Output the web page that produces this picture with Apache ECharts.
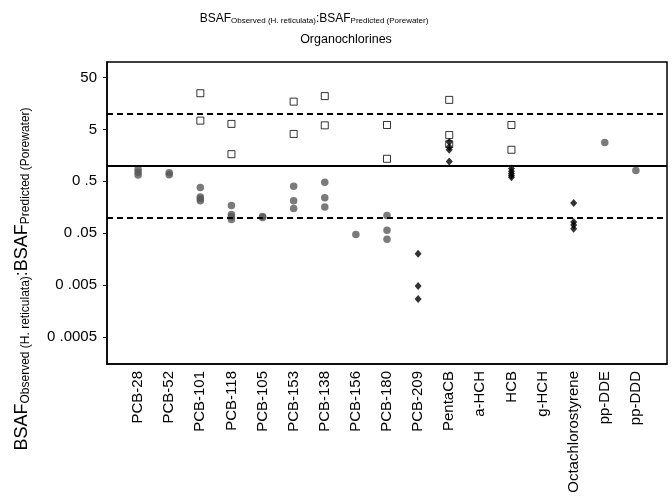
<!DOCTYPE html>
<html>
<head>
<meta charset="utf-8">
<script src="https://cdn.jsdelivr.net/npm/echarts@6/dist/echarts.min.js"></script>
<style>
  html, body { margin: 0; padding: 0; background: #fff; }
  #chart { width: 672px; height: 497px; }
</style>
</head>
<body>
<div id="chart"></div>
<script>
var categories = ["PCB-28", "PCB-52", "PCB-101", "PCB-118", "PCB-105", "PCB-153", "PCB-138",
  "PCB-156", "PCB-180", "PCB-209", "PentaCB", "a-HCH", "HCB", "g-HCH", "Octachlorostyrene",
  "pp-DDE", "pp-DDD"];

// grey circles
var circlePoints = [
  ["PCB-28", 0.85], ["PCB-28", 0.75], ["PCB-28", 0.66],
  ["PCB-52", 0.73], ["PCB-52", 0.67],
  ["PCB-101", 0.38], ["PCB-101", 0.25], ["PCB-101", 0.23], ["PCB-101", 0.21],
  ["PCB-118", 0.17], ["PCB-118", 0.115], ["PCB-118", 0.105], ["PCB-118", 0.092],
  ["PCB-105", 0.105], ["PCB-105", 0.1],
  ["PCB-153", 0.4], ["PCB-153", 0.21], ["PCB-153", 0.15],
  ["PCB-138", 0.48], ["PCB-138", 0.24], ["PCB-138", 0.16],
  ["PCB-156", 0.047],
  ["PCB-180", 0.11], ["PCB-180", 0.057], ["PCB-180", 0.038],
  ["pp-DDE", 2.8],
  ["pp-DDD", 0.81]
];

// open squares
var squarePoints = [
  ["PCB-101", 25], ["PCB-101", 7.4],
  ["PCB-118", 6.4], ["PCB-118", 1.67],
  ["PCB-153", 17.2], ["PCB-153", 4.1],
  ["PCB-138", 22], ["PCB-138", 6.0],
  ["PCB-180", 6.1], ["PCB-180", 1.36],
  ["PentaCB", 18.6], ["PentaCB", 3.9], ["PentaCB", 2.6],
  ["HCB", 6.1], ["HCB", 2.03]
];

// black diamonds
var diamondPoints = [
  ["PCB-209", 0.02], ["PCB-209", 0.0048], ["PCB-209", 0.0027],
  ["PentaCB", 2.85], ["PentaCB", 2.3], ["PentaCB", 2.03], ["PentaCB", 1.21],
  ["HCB", 0.88], ["HCB", 0.78], ["HCB", 0.71], ["HCB", 0.65], ["HCB", 0.6],
  ["Octachlorostyrene", 0.19], ["Octachlorostyrene", 0.082],
  ["Octachlorostyrene", 0.072], ["Octachlorostyrene", 0.061]
];

var yTicks = [0.0005, 0.005, 0.05, 0.5, 5, 50];
var yTickLabels = ["0 .0005", "0 .005", "0 .05", "0 .5", "5", "50"];
var solidLine = 1;
var dashedLines = [10, 0.1];

function toXY(list) {
  return list.map(function (p) { return [categories.indexOf(p[0]) + 1, p[1]]; });
}

var font = "Liberation Sans, Arial, sans-serif";
var myChart = echarts.init(document.getElementById("chart"));

var option = {
  animation: false,
  textStyle: { fontFamily: font, color: "#000" },
  title: [
    {
      text: "{m|BSAF}{s|Observed (H. reticulata)}{m|:BSAF}{s|Predicted (Porewater)}",
      left: 309, top: 5, textAlign: "center",
      textStyle: {
        fontWeight: "normal",
        rich: {
          m: { fontSize: 12, fontWeight: "normal", fontFamily: font, color: "#000", lineHeight: 15, verticalAlign: "bottom" },
          s: { fontSize: 8, fontWeight: "normal", fontFamily: font, color: "#000", lineHeight: 5, verticalAlign: "bottom" }
        }
      }
    },
    {
      text: "Organochlorines",
      left: 341, top: 28, textAlign: "center",
      textStyle: { fontSize: 12.5, fontWeight: "normal", fontFamily: font, color: "#000" }
    }
  ],
  graphic: [{
    type: "text",
    x: 21, y: 279,
    rotation: Math.PI / 2,
    style: {
      text: "{m|BSAF}{s|Observed (H. reticulata)}{m|:BSAF}{s|Predicted (Porewater)}",
      align: "center", verticalAlign: "middle",
      rich: {
        m: { fontSize: 18, fontFamily: font, fill: "#000", lineHeight: 21, verticalAlign: "bottom" },
        s: { fontSize: 12, fontFamily: font, fill: "#000", lineHeight: 7, verticalAlign: "bottom" }
      }
    }
  }],
  grid: {
    left: 107, right: 5, top: 62, bottom: 133,
    show: true, borderColor: "#000", borderWidth: 1.5
  },
  xAxis: {
    type: "value", min: 0, max: 18, interval: 1,
    axisLine: { show: true, lineStyle: { color: "#000", width: 1.5 } },
    axisTick: { show: false },
    splitLine: { show: false },
    axisLabel: {
      rotate: 90, fontSize: 15, color: "#000", margin: 7, fontFamily: font,
      showMinLabel: false, showMaxLabel: false,
      formatter: function (v) { return categories[v - 1] || ""; }
    }
  },
  yAxis: {
    type: "log", logBase: 10, min: 0.00015, max: 100,
    axisLine: { show: true, lineStyle: { color: "#000", width: 1.5 } },
    splitLine: { show: false },
    axisTick: { show: true, inside: false, length: 4, customValues: yTicks, lineStyle: { color: "#000" } },
    axisLabel: {
      fontSize: 15, color: "#000", margin: 10, fontFamily: font,
      customValues: yTicks,
      formatter: function (v) {
        for (var i = 0; i < yTicks.length; i++) {
          if (Math.abs(Math.log10(v) - Math.log10(yTicks[i])) < 1e-6) return yTickLabels[i];
        }
        return "";
      }
    }
  },
  series: [
    {
      type: "scatter", name: "circles", data: toXY(circlePoints),
      symbol: "circle", symbolSize: 7.5,
      itemStyle: { color: "#595959" },
      markLine: {
        silent: true, symbol: "none", label: { show: false },
        data: [
          { yAxis: solidLine, lineStyle: { color: "#000", width: 2, type: "solid" } },
          { yAxis: dashedLines[0], lineStyle: { color: "#000", width: 2, type: [6, 4] } },
          { yAxis: dashedLines[1], lineStyle: { color: "#000", width: 2, type: [6, 4] } }
        ]
      }
    },
    {
      type: "scatter", name: "squares", data: toXY(squarePoints),
      symbol: "rect", symbolSize: 7,
      itemStyle: { color: "#fff", borderColor: "#000", borderWidth: 1 }
    },
    {
      type: "scatter", name: "diamonds", data: toXY(diamondPoints),
      symbol: "diamond", symbolSize: [7, 8],
      itemStyle: { color: "#000" }
    }
  ]
};

myChart.setOption(option);
</script>
</body>
</html>
